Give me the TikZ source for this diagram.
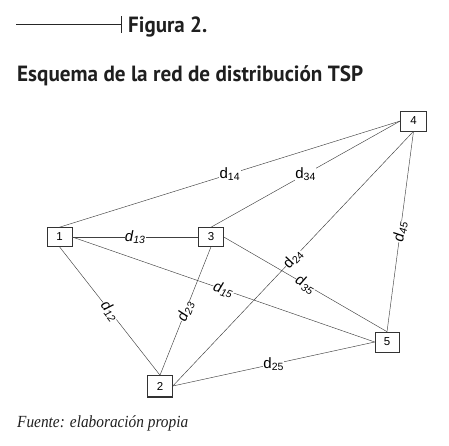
\documentclass[tikz,border=0pt]{standalone}
\usepackage{fontspec}
\usepackage{graphicx}
\newfontfamily\arialfont{Liberation Sans}
\newfontfamily\titlefont{PT Sans}
\newfontfamily\notefont{Liberation Serif}
\usetikzlibrary{positioning}

\begin{document}
\begin{tikzpicture}[x=1pt,y=-1pt,
    city/.style={draw=black!80, line width=0.6pt, fill=white, minimum width=25pt,
        minimum height=19pt, inner sep=0pt, font=\arialfont\fontsize{11.5}{11.5}\selectfont},
    road/.style={draw=black!75, line width=0.45pt},
    dist/.style={midway, fill=white, inner sep=0.4pt, font=\arialfont\fontsize{15}{15}\selectfont},
    heading/.style={anchor=base west, inner sep=0pt, text=black!88}]
  \useasboundingbox (0,0) rectangle (449,445);

  % heading
  \coordinate (ruleStart) at (16,24);
  \coordinate (ruleEnd) at (121,24);
  \draw[black!85, line width=0.8pt] (ruleStart) -- (ruleEnd);
  \draw[black!85, line width=0.9pt] ([yshift=8pt]ruleEnd) -- ([yshift=-9pt]ruleEnd);
  \node[heading] (figTitle) at (128,32.3)
    {\titlefont\bfseries\fontsize{22}{22}\selectfont\resizebox{79pt}{\height}{Figura 2.}};
  \node[heading] (mapTitle) at (17,81)
    {\titlefont\bfseries\fontsize{22}{22}\selectfont\resizebox{346pt}{\height}{Esquema de la red de distribución TSP}};

  % cities
  \node[city] (n1) at (59.5,237) {1};
  \node[city] (n3) at (211,237) {3};
  \node[city, minimum width=26pt, minimum height=20pt] (n4) at (413.5,121) {4};
  \node[city, minimum width=24pt, minimum height=20pt] (n5) at (387,342) {5};
  \node[city, minimum height=21pt] (n2) at (160,386) {2};
  \draw[black!80, line width=1.6pt] (n2.south west) -- (n2.south east);

  % distances
  \draw[road] (n1.north) -- node[dist] {d\textsubscript{14}} (n4.west);
  \draw[road] (n3.north) -- node[dist] {d\textsubscript{34}} (n4.west);
  \draw[road] (n1.east) -- node[dist] {\itshape d\textsubscript{13}} (n3.west);
  \draw[road] (n1.south) -- node[dist, sloped] {\itshape d\textsubscript{12}} (n2.north);
  \draw[road] (n3.south) -- node[dist, sloped] {\itshape d\textsubscript{23}} (n2.north);
  \draw[road] (n1.east) -- node[dist, sloped] {\itshape d\textsubscript{15}} (n5.west);
  \draw[road] (n3.east) -- node[dist, sloped] {\itshape d\textsubscript{35}} (n5.north);
  \draw[road] (n2.east) -- node[dist, sloped] {d\textsubscript{24}} (n4.south);
  \draw[road] (n2.east) -- node[dist] {d\textsubscript{25}} (n5.west);
  \draw[road] (n4.south) -- node[dist, sloped] {\itshape d\textsubscript{45}} (n5.north);

  % source
  \node[heading] (source) at (17,427)
    {\notefont\itshape\fontsize{17}{17}\selectfont\resizebox{171pt}{\height}{Fuente: elaboración propia}};
\end{tikzpicture}
\end{document}
